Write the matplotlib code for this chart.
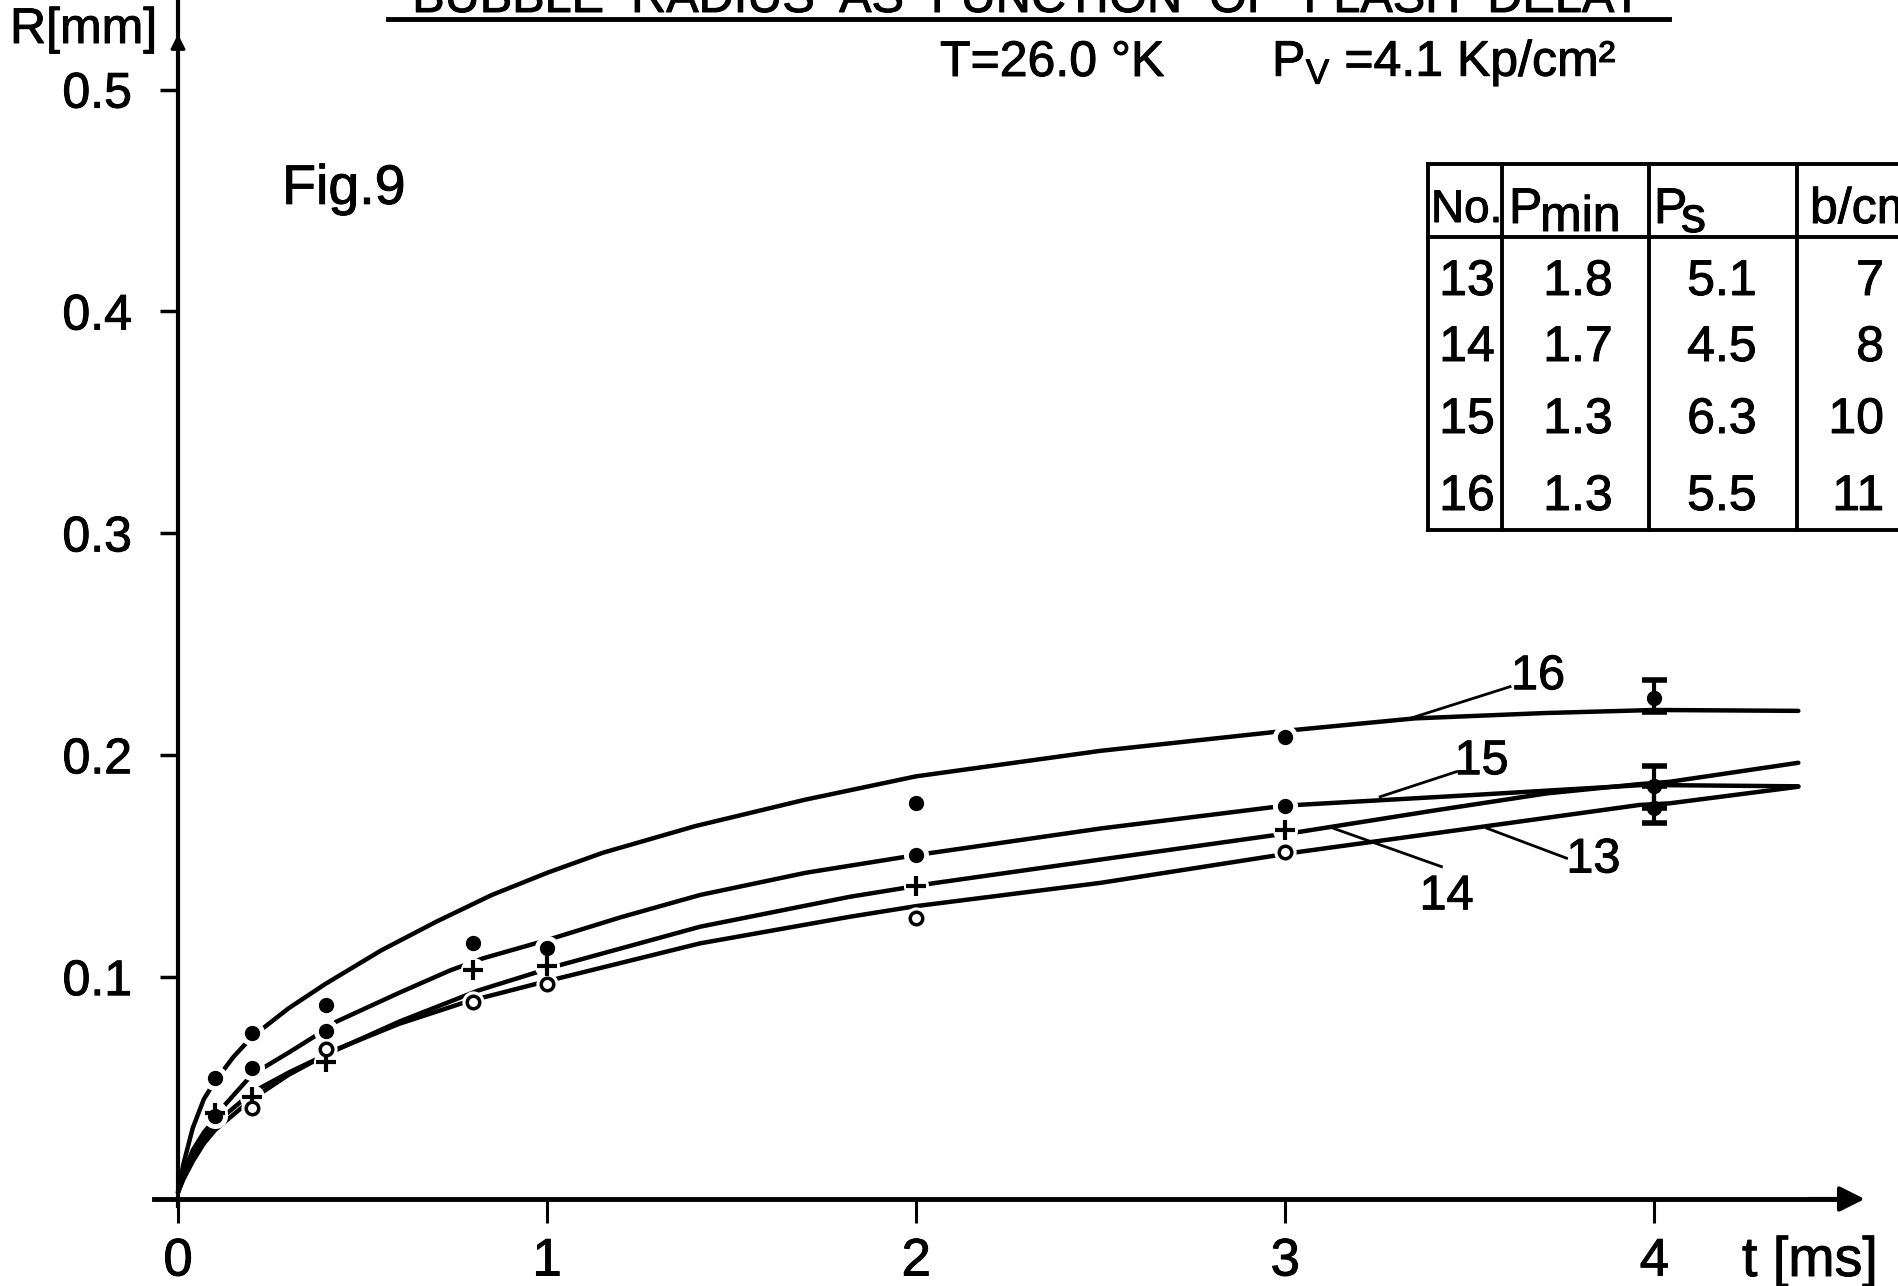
import numpy as np
import matplotlib
matplotlib.use("Agg")
import matplotlib.pyplot as plt
from matplotlib.lines import Line2D
from matplotlib import font_manager
import matplotlib.patheffects as pe

plt.rcParams['font.family'] = ['Liberation Sans', 'DejaVu Sans']
plt.rcParams['mathtext.fontset'] = 'custom'
plt.rcParams['mathtext.rm'] = 'Liberation Sans'
plt.rcParams['mathtext.it'] = 'Liberation Sans'

_names = {f.name for f in font_manager.fontManager.ttflist}
NARROW = 'Liberation Sans Narrow' if 'Liberation Sans Narrow' in _names else 'Liberation Sans'
BOLDEN = [pe.withStroke(linewidth=0.7, foreground="k")]

# ---------- data ----------
# measured points (t in ms, R in mm)
s16_t = [0.1, 0.2, 0.4, 0.8, 2.0, 3.0]
s16_r = [0.0546, 0.075, 0.0874, 0.1155, 0.1783, 0.208]
s15_t = [0.1, 0.2, 0.4, 1.0, 2.0, 3.0]
s15_r = [0.0375, 0.0589, 0.0759, 0.113, 0.155, 0.1773]
s14_t = [0.1, 0.2, 0.4, 0.8, 1.0, 2.0, 3.0]
s14_r = [0.0386, 0.0461, 0.0619, 0.1032, 0.105, 0.141, 0.1663]
s13_t = [0.2, 0.4, 0.8, 1.0, 2.0, 3.0]
s13_r = [0.0409, 0.0676, 0.0889, 0.0968, 0.1265, 0.1563]

# points at 4 ms with error bars
err_t = [4.0, 4.0, 4.0]
err_r = [0.2257, 0.186, 0.176]
err_lo = [0.006, 0.010, 0.0064]
err_hi = [0.008, 0.009, 0.010]

# hand drawn fit curves
c16_t = [0, 0.015, 0.04, 0.07, 0.1, 0.15, 0.2, 0.3, 0.4, 0.55, 0.7, 0.85, 1.0,
         1.15, 1.4, 1.7, 2.0, 2.5, 3.0, 3.35, 3.7, 4.0, 4.39]
c16_r = [0.003, 0.016, 0.032, 0.045, 0.053, 0.064, 0.073, 0.086, 0.097, 0.112,
         0.125, 0.137, 0.147, 0.156, 0.168, 0.180, 0.1905, 0.202, 0.211, 0.2166,
         0.219, 0.2204, 0.220]
c15_t = [0, 0.015, 0.04, 0.07, 0.1, 0.127, 0.2, 0.3, 0.376, 0.43, 0.6, 0.737,
         0.827, 1.0, 1.2, 1.414, 1.7, 2.0, 2.5, 3.0, 3.5, 3.97, 4.39]
c15_r = [0.003, 0.012, 0.022, 0.030, 0.036, 0.0424, 0.056, 0.066, 0.0739, 0.080,
         0.093, 0.103, 0.1085, 0.1167, 0.127, 0.137, 0.147, 0.155, 0.167, 0.1773,
         0.182, 0.1866, 0.186]
c14_t = [0, 0.015, 0.04, 0.07, 0.1, 0.2, 0.3, 0.4, 0.6, 0.814, 1.026, 1.414,
         1.82, 2.046, 2.5, 2.954, 3.04, 3.4, 3.708, 3.96, 4.04, 4.39]
c14_r = [0.003, 0.010, 0.019, 0.027, 0.034, 0.048, 0.057, 0.065, 0.080, 0.094,
         0.105, 0.1227, 0.1362, 0.1423, 0.153, 0.1636, 0.1655, 0.175, 0.1828,
         0.187, 0.188, 0.1966]
c13_t = [0, 0.015, 0.04, 0.07, 0.1, 0.2, 0.3, 0.425, 0.6, 0.782, 0.976, 1.414,
         1.82, 2.0, 2.5, 2.954, 3.04, 3.5, 3.96, 4.04, 4.39]
c13_r = [0.003, 0.009, 0.017, 0.025, 0.031, 0.045, 0.056, 0.0672, 0.079, 0.0889,
         0.0972, 0.1152, 0.1272, 0.132, 0.1425, 0.1543, 0.1565, 0.167, 0.1776,
         0.1783, 0.1858]

# curve labels: text, text position, leader line start/end
lbl_text = ["16", "15", "14", "13"]
lbl_pos = [(3.685, 0.2354), (3.532, 0.1971), (3.437, 0.1362), (3.835, 0.1528)]
lbl_lead = [((3.609, 0.2309), (3.338, 0.2166)),
            ((3.464, 0.1926), (3.257, 0.1813)),
            ((3.423, 0.1498), (3.13, 0.1671)),
            ((3.762, 0.1536), (3.546, 0.1671))]

# table
tab_head = ["No.", "P", "P", "b/cm"]
tab_no = ["13", "14", "15", "16"]
tab_pmin = ["1.8", "1.7", "1.3", "1.3"]
tab_ps = ["5.1", "4.5", "6.3", "5.5"]
tab_b = ["7", "8", "10", "11"]

xticks = [0, 1, 2, 3, 4]
yticks = [0.1, 0.2, 0.3, 0.4, 0.5]
ytick_labels = ["0.1", "0.2", "0.3", "0.4", "0.5"]

# ---------- figure ----------
W, H = 1899, 1286
fig = plt.figure(figsize=(W / 100, H / 100), dpi=100)
ax = fig.add_axes([0, 0, 1, 1])
ax.set_xlim(-178 / 369.1, (W - 178) / 369.1)
ax.set_ylim(-(H - 1199) / 2218.8, 1199 / 2218.8)


def fpx(x, y):
    return x / W, 1 - y / H


# axes with arrows
for s in ["top", "right"]:
    ax.spines[s].set_visible(False)
ax.spines["left"].set_position(("data", 0))
ax.spines["bottom"].set_position(("data", 0))
ax.spines["left"].set_bounds(-0.003, 0.545)
ax.spines["bottom"].set_bounds(-0.065, 4.5)
ax.spines["left"].set_linewidth(3.0)
ax.spines["bottom"].set_linewidth(3.5)
ax.annotate("", xy=(4.57, 0), xytext=(4.42, 0),
            arrowprops=dict(arrowstyle="-|>", mutation_scale=38, lw=3, color="k",
                            shrinkA=0, shrinkB=0))
ax.annotate("", xy=(0, 0.525), xytext=(0, 0.50),
            arrowprops=dict(arrowstyle="-|>", mutation_scale=22, lw=2, color="k",
                            shrinkA=0, shrinkB=0))

ax.set_xticks(xticks)
ax.set_xticklabels([str(t) for t in xticks])
ax.set_yticks(yticks)
ax.set_yticklabels(ytick_labels)
ax.tick_params(axis="x", direction="out", length=17, width=2.2, pad=10, labelsize=38)
ax.tick_params(axis="y", direction="out", length=13, width=2.5, pad=20, labelsize=36)
for lab in ax.get_xticklabels() + ax.get_yticklabels():
    lab.set_fontfamily(NARROW)
    lab.set_path_effects(BOLDEN)

# curves
for ct, cr in [(c16_t, c16_r), (c15_t, c15_r), (c14_t, c14_r), (c13_t, c13_r)]:
    ax.plot(ct, cr, color="k", lw=3.2, solid_capstyle="round", zorder=2)

# white halo -> gaps in the curves around the points
halo = dict(linestyle="none", marker="o", color="white", mec="white", zorder=3)
ax.plot(s16_t + s15_t, s16_r + s15_r, ms=17, **halo)
ax.plot(s14_t, s14_r, ms=17, **halo)
ax.plot(s13_t, s13_r, ms=15, **halo)

ax.plot(s16_t, s16_r, "o", color="k", ms=10, zorder=4)
ax.plot(s15_t, s15_r, "o", color="k", ms=10, zorder=4)
ax.plot(s14_t, s14_r, "+", color="k", ms=15, mew=3, zorder=4)
ax.plot(s13_t, s13_r, "o", mfc="white", mec="k", ms=9, mew=2.5, zorder=4)

ax.errorbar(err_t, err_r, yerr=[err_lo, err_hi], fmt="o", color="k", ms=10,
            elinewidth=3, capsize=9, capthick=4, zorder=5)

# curve labels
for txt, (x, y), (p0, p1) in zip(lbl_text, lbl_pos, lbl_lead):
    ax.plot([p0[0], p1[0]], [p0[1], p1[1]], color="k", lw=2, zorder=2)
    ax.text(x, y, txt, fontsize=35, ha="center", va="center", family=NARROW,
            path_effects=BOLDEN)

ax.text(0.282, 0.4548, "Fig.9", fontsize=40, ha="left", va="center",
        path_effects=BOLDEN)

# axis labels
fig.text(*fpx(10, 30), "R[mm]", fontsize=36, ha="left", va="center", family=NARROW,
         path_effects=BOLDEN)
fig.text(*fpx(1742, 1262), "t [ms]", fontsize=40, ha="left", va="center",
         family=NARROW, path_effects=BOLDEN)

# title (cut off by the top border) and subtitle
fig.text(*fpx(1028, 12), "BUBBLE  RADIUS  AS  FUNCTION  OF  FLASH  DELAY",
         fontsize=35, ha="center", va="baseline", path_effects=BOLDEN)
fig.add_artist(Line2D([388 / W, 1669 / W], [1 - 19 / H] * 2, lw=3.5, color="k"))
fig.text(*fpx(940, 63), "T=26.0 °K", fontsize=36, ha="left", va="center",
         path_effects=BOLDEN)
fig.text(*fpx(1272, 63), r"P$_\mathrm{V}$ =4.1 Kp/cm²", fontsize=36,
         ha="left", va="center", path_effects=BOLDEN)

# table
tl, tt, th, tb = 1428, 164, 237, 530
cols = [1502, 1649, 1797]
lw_t = 2.8
fig.add_artist(Line2D([tl / W, 1.0], [1 - tt / H] * 2, lw=lw_t, color="k"))
fig.add_artist(Line2D([tl / W, 1.0], [1 - th / H] * 2, lw=lw_t, color="k"))
fig.add_artist(Line2D([tl / W, 1.0], [1 - tb / H] * 2, lw=lw_t, color="k"))
for cx in [tl] + cols:
    fig.add_artist(Line2D([cx / W] * 2, [1 - tt / H, 1 - tb / H], lw=lw_t, color="k"))

tkw = dict(fontsize=36, va="center", path_effects=BOLDEN)
hkw = dict(fontsize=33, va="center", path_effects=BOLDEN)
hy = 210
fig.text(*fpx(1431, hy), tab_head[0], ha="left", **hkw)
fig.text(*fpx(1509, hy), tab_head[1], ha="left", **tkw)
fig.text(*fpx(1540, hy + 8), "min", ha="left", **tkw)
fig.text(*fpx(1654, hy), tab_head[2], ha="left", **tkw)
fig.text(*fpx(1681, hy + 9), "s", ha="left", **tkw)
fig.text(*fpx(1810, hy), tab_head[3], ha="left", **tkw)

row_y = [282, 348, 420, 497]
for i, ry in enumerate(row_y):
    fig.text(*fpx(1467, ry), tab_no[i], ha="center", **tkw)
    fig.text(*fpx(1578, ry), tab_pmin[i], ha="center", **tkw)
    fig.text(*fpx(1722, ry), tab_ps[i], ha="center", **tkw)
    fig.text(*fpx(1884, ry), tab_b[i], ha="right", **tkw)

fig.savefig("out.png", dpi=100)
